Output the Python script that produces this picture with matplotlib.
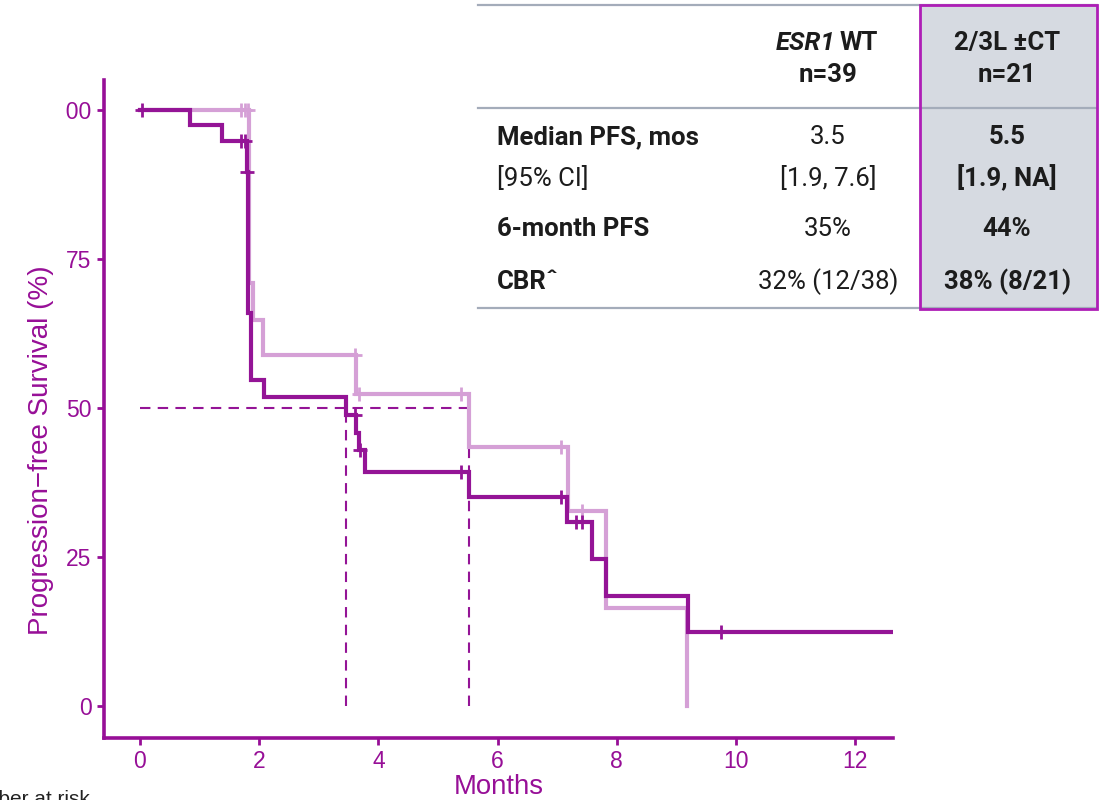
import matplotlib
matplotlib.use("Agg")
import matplotlib.pyplot as plt
from matplotlib.patches import Rectangle
from matplotlib.lines import Line2D

# ---------------- data ----------------
# ESR1 WT (n=39) - dark curve
wt_time = [0.0, 0.84, 1.37, 1.80, 1.82, 1.86, 1.87, 2.08, 3.46, 3.63, 3.67, 3.77, 5.52, 7.16, 7.59, 7.82, 9.20, 12.6]
wt_surv = [100, 97.4, 94.8, 89.5, 65.9, 57.5, 54.7, 51.8, 48.8, 45.8, 43.0, 39.2, 35.1, 30.9, 24.6, 18.5, 12.4, 12.4]
wt_cens_t = [0.03, 1.70, 1.76, 1.80, 3.60, 3.69, 5.39, 7.06, 7.31, 7.41, 9.75]
wt_cens_s = [100, 94.8, 94.8, 89.5, 48.8, 43.0, 39.2, 35.1, 30.9, 30.9, 12.4]

# 2/3L +-CT (n=21) - light curve
ct_time = [0.0, 1.83, 1.90, 2.07, 3.63, 5.52, 7.18, 7.82, 9.18]
ct_surv = [100, 70.9, 64.8, 58.9, 52.3, 43.5, 32.7, 16.4, 0.0]
ct_cens_t = [1.70, 1.76, 1.81, 3.60, 3.67, 5.38, 7.06, 7.41]
ct_cens_s = [100, 100, 100, 58.9, 52.3, 52.3, 43.5, 32.7]

medians = [3.45, 5.52]
x_ticks = [0, 2, 4, 6, 8, 10, 12]
y_ticks = [0, 25, 50, 75, 100]

row_labels = ["Median PFS, mos", "[95% CI]", "6-month PFS", "CBRˆ"]
row_bold = [True, False, True, True]
col1_header = ["n=39"]
col1_values = ["3.5", "[1.9, 7.6]", "35%", "32% (12/38)"]
col2_header = ["2/3L ±CT", "n=21"]
col2_values = ["5.5", "[1.9, NA]", "44%", "38% (8/21)"]

# ---------------- style ----------------
plt.rcParams["font.family"] = ["Liberation Sans", "DejaVu Sans"]
DARK = "#941496"
LIGHT = "#D5A0D6"
AXC = "#970F97"
W, H = 1104, 800

fig = plt.figure(figsize=(W / 100, H / 100), dpi=100)
ax = fig.add_axes([104 / W, 62 / H, (892.7 - 104) / W, (738 - 80) / H])

ax.step(ct_time, ct_surv, where="post", color=LIGHT, lw=3.0, zorder=2, solid_joinstyle="miter")
ax.plot(ct_cens_t, ct_cens_s, ls="none", marker="+", ms=10, mew=2, color=LIGHT, zorder=2)
ax.step(wt_time, wt_surv, where="post", color=DARK, lw=3.0, zorder=3, solid_joinstyle="miter")
ax.plot(wt_cens_t, wt_cens_s, ls="none", marker="+", ms=10, mew=2, color=DARK, zorder=3)

# median guide lines
ax.plot([0, max(medians)], [50, 50], ls=(0, (5, 3.5)), color=DARK, lw=1.5, zorder=1)
for m in medians:
    ax.plot([m, m], [0, 50], ls=(0, (5, 3.5)), color=DARK, lw=1.5, zorder=1)

ax.set_xlim((104 - 140) / 59.6, (892.7 - 140) / 59.6)
ax.set_ylim(-5.37, 105.0)
ax.set_xticks(x_ticks)
ax.set_yticks(y_ticks)
for s in ["top", "right"]:
    ax.spines[s].set_visible(False)
for s in ["left", "bottom"]:
    ax.spines[s].set_color(AXC)
    ax.spines[s].set_linewidth(2.6)
ax.tick_params(colors=AXC, labelsize=16.5, length=5, width=2, pad=4)
ax.set_xlabel("Months", color=AXC, fontsize=19.8, labelpad=0)
ax.set_ylabel("Progression\u2212free Survival (%)", color=AXC, fontsize=20)
ax.yaxis.set_label_coords(-0.064, 0.438)

# hide most of the "1" in 100 (cropped in reference)
fig.add_artist(Rectangle((35 / W, (H - 127) / H), 26.5 / W, 34 / H, transform=fig.transFigure,
                         facecolor="white", edgecolor="none", zorder=10))
fig.add_artist(Rectangle((35 / W, (H - 127) / H), 30.5 / W, 23 / H, transform=fig.transFigure,
                         facecolor="white", edgecolor="none", zorder=10))

# "Number at risk" clipped at bottom
fig.text(-46 / W, -5 / H, "Number at risk", fontsize=15, color="#222222",
         va="baseline", ha="left")

# ---------------- table ----------------
def fx(px):
    return px / W

def fy(py):
    return 1 - py / H

TF = "Roboto"
TS = 18.5
TC = "#1c1c1c"
GRAY = "#A4ACBA"

# shaded column
fig.add_artist(Rectangle((fx(920), fy(309)), (1097 - 920) / W, (309 - 5) / H, transform=fig.transFigure,
                         facecolor="#D6DAE1", edgecolor="none", zorder=1))
for yy in [5, 108, 308]:
    fig.add_artist(Line2D([fx(478), fx(1097)], [fy(yy), fy(yy)], transform=fig.transFigure,
                          color=GRAY, lw=1.6, zorder=2))
fig.add_artist(Rectangle((fx(920), fy(309)), (1097 - 920) / W, (309 - 5) / H, transform=fig.transFigure,
                         facecolor="none", edgecolor="#AE1EB6", lw=2, zorder=3))

c1, c2 = 828, 1007
fig.text(fx(835), fy(43), "ESR1", fontsize=TS, family=TF, weight="bold", style="italic",
         color=TC, ha="right", va="center")
fig.text(fx(840), fy(43), "WT", fontsize=TS, family=TF, weight="bold", color=TC, ha="left", va="center")
fig.text(fx(c1), fy(75), col1_header[0], fontsize=TS, family=TF, weight="bold", color=TC, ha="center", va="center")
fig.text(fx(c2), fy(43), col2_header[0], fontsize=TS, family=TF, weight="bold", color=TC, ha="center", va="center")
fig.text(fx(c2), fy(75), col2_header[1], fontsize=TS, family=TF, weight="bold", color=TC, ha="center", va="center")

row_y = [137, 178, 229, 282]
for lab, b, v1, v2, yy in zip(row_labels, row_bold, col1_values, col2_values, row_y):
    fig.text(fx(497), fy(yy), lab, fontsize=TS, family=TF, weight="bold" if b else "normal",
             color=TC, ha="left", va="center")
    fig.text(fx(c1), fy(yy), v1, fontsize=TS, family=TF, color=TC, ha="center", va="center")
    fig.text(fx(c2), fy(yy), v2, fontsize=TS, family=TF, weight="bold", color=TC, ha="center", va="center")

fig.savefig("out.png", dpi=100)
